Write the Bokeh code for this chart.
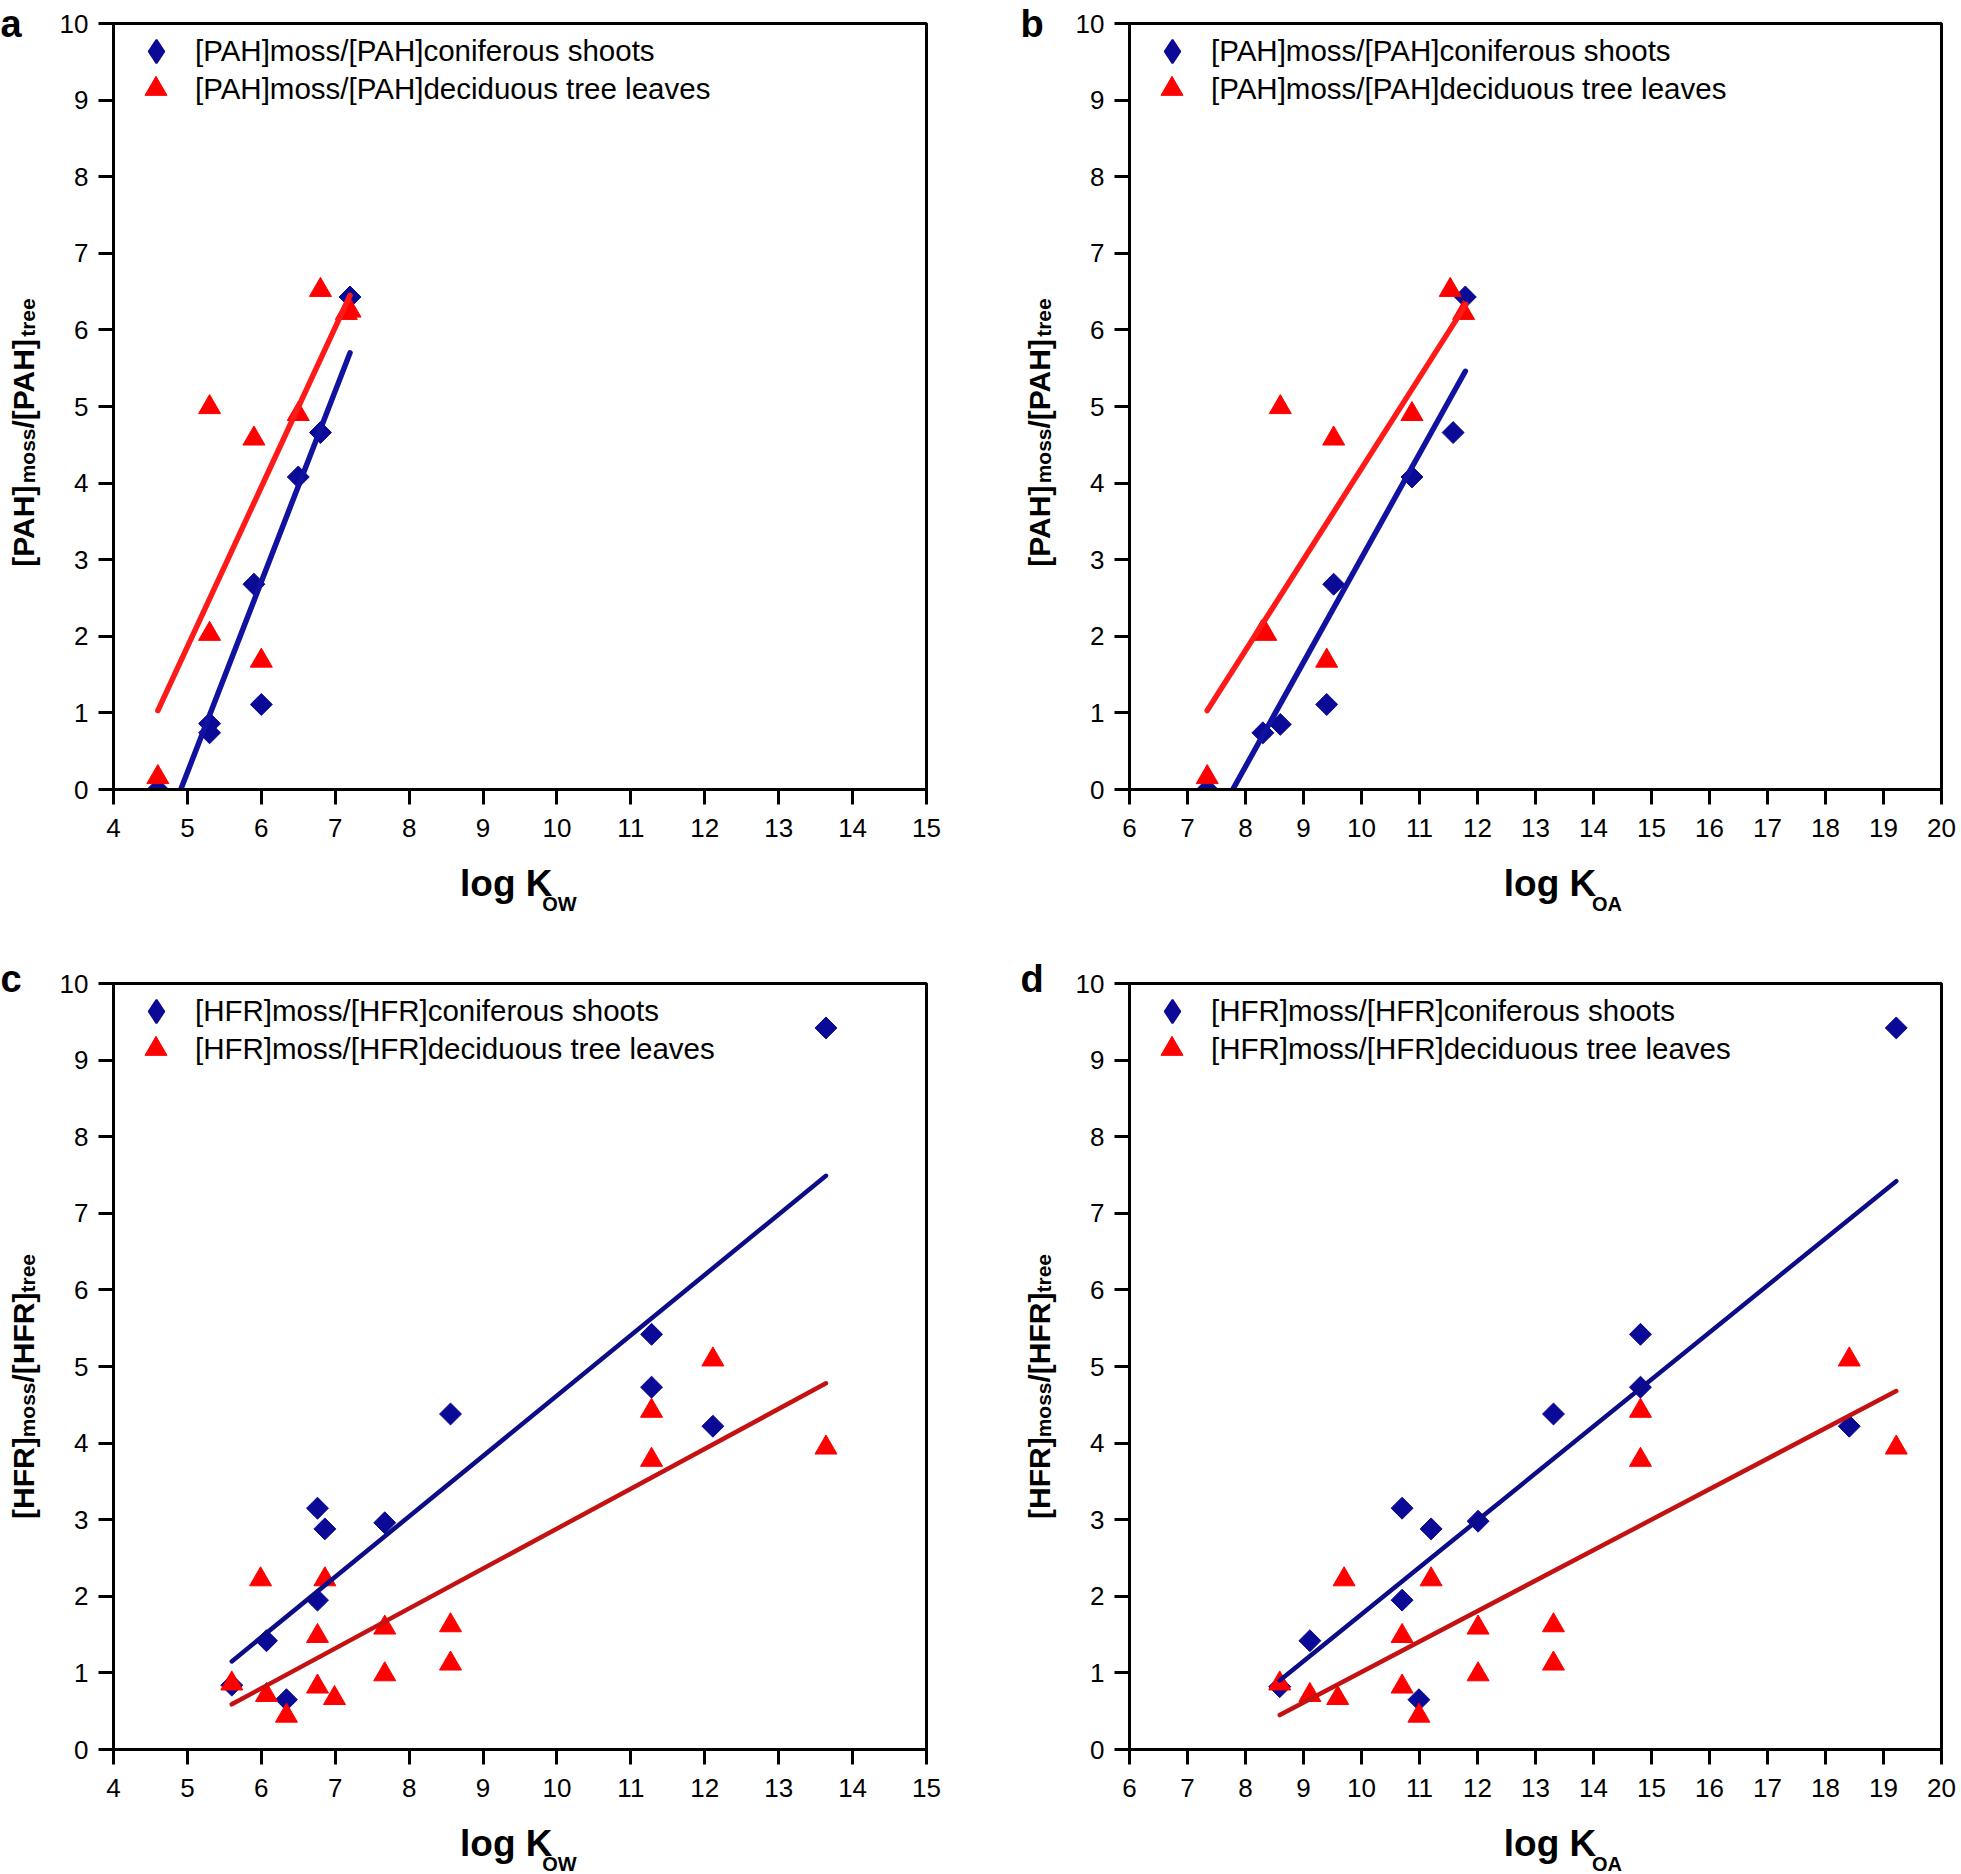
from math import pi
from bokeh.plotting import figure
from bokeh.models import Label, Legend, LegendItem, FixedTicker, Range1d
from bokeh.layouts import row, column
from bokeh.embed import file_html
from bokeh.resources import INLINE

# ---------------- data ----------------
# Panel a: PAH vs log Kow
a_con_x = [4.6, 5.3, 5.3, 5.9, 6.0, 6.5, 6.8, 7.2]
a_con_y = [0.0, 0.86, 0.74, 2.68, 1.11, 4.08, 4.66, 6.43]
a_dec_x = [4.6, 5.3, 5.3, 5.9, 6.0, 6.5, 6.8, 7.15, 7.2]
a_dec_y = [0.16, 4.99, 2.03, 4.58, 1.68, 4.90, 6.52, 6.22, 6.25]
a_fit_con_x = [4.91, 7.2]
a_fit_con_y = [0.0, 5.70]
a_fit_dec_x = [4.6, 7.2]
a_fit_dec_y = [1.03, 6.45]

# Panel b: PAH vs log Koa
b_con_x = [7.34, 8.3, 8.6, 9.4, 9.52, 10.87, 11.58, 11.79]
b_con_y = [0.0, 0.74, 0.85, 1.11, 2.68, 4.08, 4.66, 6.43]
b_dec_x = [7.34, 8.28, 8.35, 8.6, 9.4, 9.52, 10.87, 11.53, 11.76]
b_dec_y = [0.16, 2.05, 2.03, 4.99, 1.68, 4.58, 4.90, 6.52, 6.22]
b_fit_con_x = [7.78, 11.79]
b_fit_con_y = [0.0, 5.46]
b_fit_dec_x = [7.34, 11.8]
b_fit_dec_y = [1.03, 6.33]

# Panel c: HFR vs log Kow
c_con_x = [5.6, 6.07, 6.34, 6.76, 6.86, 6.76, 7.67, 8.56, 11.28, 11.28, 12.11, 13.64]
c_con_y = [0.84, 1.42, 0.65, 3.15, 2.88, 1.95, 2.96, 4.38, 5.42, 4.73, 4.22, 9.42]
c_dec_x = [5.6, 5.99, 6.07, 6.34, 6.76, 6.76, 6.86, 6.99, 7.67, 7.67, 8.56, 8.56,
           11.28, 11.28, 12.11, 13.64]
c_dec_y = [0.86, 2.22, 0.71, 0.44, 1.48, 0.82, 2.22, 0.67, 1.59, 0.98, 1.62, 1.12,
           4.42, 3.78, 5.09, 3.94]
c_fit_con_x = [5.6, 13.64]
c_fit_con_y = [1.15, 7.49]
c_fit_dec_x = [5.6, 13.64]
c_fit_dec_y = [0.59, 4.78]

# Panel d: HFR vs log Koa
d_con_x = [8.59, 9.11, 10.70, 11.20, 10.70, 12.01, 10.99, 13.31, 14.81, 14.81, 18.41, 19.22]
d_con_y = [0.82, 1.42, 3.15, 2.88, 1.95, 2.98, 0.65, 4.38, 5.42, 4.73, 4.22, 9.42]
d_dec_x = [8.59, 9.11, 9.59, 9.70, 10.70, 10.70, 10.99, 11.20, 12.01, 12.01, 13.31, 13.31,
           14.81, 14.81, 18.41, 19.22]
d_dec_y = [0.86, 0.71, 0.67, 2.22, 1.48, 0.82, 0.44, 2.22, 1.59, 0.98, 1.62, 1.12,
           4.42, 3.78, 5.09, 3.94]
d_fit_con_x = [8.59, 19.22]
d_fit_con_y = [0.90, 7.42]
d_fit_dec_x = [8.59, 19.22]
d_fit_dec_y = [0.45, 4.68]

kow_ticks = list(range(4, 16))
koa_ticks = list(range(6, 21))
y_ticks = list(range(0, 11))

# ---------------- style ----------------
FONT = "Liberation Sans"
BLUE = "#0a0a96"
RED = "#ff0000"
FRAME_H = 766
BASE_CORR = 0.25  # bokeh draws 'alphabetic' text this fraction of the size lower

# Arial/Liberation Sans Bold advance widths (per 1000 em)
BOLD_W = {" ": 278, "[": 333, "]": 333, "/": 278, "A": 722, "F": 611, "H": 722,
          "K": 722, "O": 778, "P": 667, "R": 722, "W": 944, "e": 556, "g": 611,
          "l": 278, "m": 889, "o": 611, "r": 389, "s": 556, "t": 333}


def tw(text, size):
    return sum(BOLD_W.get(ch, 556) for ch in text) * size / 1000.0


def helper(width, height):
    f = figure(width=width, height=height, x_range=Range1d(0, width),
               y_range=Range1d(height, 0), output_backend="svg", toolbar_location=None,
               x_axis_location=None, y_axis_location=None, min_border=0,
               min_border_left=0, min_border_right=0, min_border_top=0, min_border_bottom=0)
    f.outline_line_color = None
    f.background_fill_color = "white"
    f.border_fill_color = "white"
    f.xgrid.visible = False
    f.ygrid.visible = False
    return f


def bold_label(x, y, text, size, angle=0.0):
    # x, y: wanted baseline start (pixels in the helper strip, y downwards)
    if angle == 0.0:
        y = y - BASE_CORR * size
    else:
        x = x - BASE_CORR * size
    return Label(x=x, y=y, text=text, angle=angle, text_font=FONT,
                 text_font_size="%spx" % size, text_font_style="bold",
                 text_baseline="alphabetic", text_align="left", text_color="black")


def make_panel(letter, xr, xticks, ylab_w, border_left, frame_w, border_right,
               border_top, border_bottom, xlab_h, xlab_base, letter_x, letter_base,
               ylab_base, ylab_center, con_x, con_y, dec_x, dec_y, fcx, fcy, fdx, fdy,
               species, xsub, fit_width, blue_line, red_line):
    main_w = border_left + frame_w + border_right
    main_h = border_top + FRAME_H + border_bottom
    p = figure(width=main_w, height=main_h, x_range=Range1d(xr[0], xr[1]),
               y_range=Range1d(0, 10), output_backend="svg", toolbar_location=None,
               min_border_left=border_left, min_border_right=border_right,
               min_border_top=border_top, min_border_bottom=border_bottom)
    p.xgrid.visible = False
    p.ygrid.visible = False
    p.outline_line_color = "black"
    p.outline_line_width = 3
    p.outline_line_alpha = 1.0
    p.background_fill_color = "white"
    p.border_fill_color = "white"
    p.xaxis.ticker = FixedTicker(ticks=xticks)
    p.yaxis.ticker = FixedTicker(ticks=y_ticks)
    for ax in (p.xaxis[0], p.yaxis[0]):
        ax.axis_line_width = 3
        ax.axis_line_color = "black"
        ax.major_tick_line_width = 3
        ax.major_tick_line_color = "black"
        ax.major_tick_out = 15
        ax.major_tick_in = 0
        ax.minor_tick_out = 0
        ax.minor_tick_in = 0
        ax.major_label_text_font = FONT
        ax.major_label_text_font_size = "26px"
        ax.major_label_text_color = "black"
    p.xaxis.major_label_standoff = 14
    p.yaxis.major_label_standoff = 10

    p.scatter(con_x, con_y, marker="square", size=15.5, angle=pi / 4,
              fill_color=BLUE, line_color=BLUE, line_width=1)
    r_dec = p.scatter(dec_x, dec_y, marker="triangle", size=22,
                      fill_color=RED, line_color=RED, line_width=1)
    p.line(fdx, fdy, line_width=fit_width, line_color=red_line, line_cap="round")
    p.line(fcx, fcy, line_width=fit_width, line_color=blue_line, line_cap="round")
    # legend key for the diamonds (legend glyphs are drawn unrotated)
    r_key = p.scatter(con_x, con_y, marker="diamond", fill_color=BLUE, line_color=BLUE,
                      line_width=2, visible=False)

    common = dict(margin=0, padding=0, spacing=0, label_height=30,
                  label_text_font=FONT, label_text_font_size="29.5px",
                  label_text_color="black", border_line_alpha=0,
                  background_fill_alpha=0)
    leg1 = Legend(items=[LegendItem(label="[%s]moss/[%s]coniferous shoots" % (species, species),
                                    renderers=[r_key])],
                  location=(14, 709), glyph_width=58, glyph_height=58,
                  label_standoff=10, **common)
    leg2 = Legend(items=[LegendItem(label="[%s]moss/[%s]deciduous tree leaves" % (species, species),
                                    renderers=[r_dec])],
                  location=(15, 673), glyph_width=55, glyph_height=55,
                  label_standoff=12, **common)
    p.add_layout(leg1)
    p.add_layout(leg2)

    # x-axis label below (separate strip)
    xl = helper(main_w, xlab_h)
    main_size, sub_size = 37, 20
    w1 = tw("log K", main_size)
    w2 = tw(xsub, sub_size)
    cx = border_left + frame_w / 2.0
    x0 = cx - (w1 + w2) / 2.0 + 6
    xl.add_layout(bold_label(x0, xlab_base, "log K", main_size))
    xl.add_layout(bold_label(x0 + w1 + 4, xlab_base + 16, xsub, sub_size))

    # y-axis label and panel letter (separate strip on the left)
    yl = helper(ylab_w, main_h + xlab_h)
    yl.add_layout(bold_label(letter_x, letter_base, letter, 38))
    parts = [("[%s]" % species, 30, 0), ("moss", 21, 2),
             ("/[%s]" % species, 30, 0), ("tree", 21, 2)]
    total = sum(tw(t, s) for t, s, _ in parts)
    pos = ylab_center + total / 2.0
    for t, s, drop in parts:
        yl.add_layout(bold_label(ylab_base + drop, pos, t, s, angle=pi / 2))
        pos -= tw(t, s)

    return row(yl, column(p, xl))


# row 1 spans page y 0..930, row 2 spans 930..1873
pa = make_panel("a", (4, 15), kow_ticks, 55, 58, 813, 84, 23, 60, 81, 43,
                0, 33, 30, 432,
                a_con_x, a_con_y, a_dec_x, a_dec_y,
                a_fit_con_x, a_fit_con_y, a_fit_dec_x, a_fit_dec_y, "PAH", "OW",
                5.5, "#1212a0", "#ff1a1a")
pb = make_panel("b", (6, 20), koa_ticks, 60, 59, 812, 18, 23, 60, 81, 43,
                10, 33, 36, 432,
                b_con_x, b_con_y, b_dec_x, b_dec_y,
                b_fit_con_x, b_fit_con_y, b_fit_dec_x, b_fit_dec_y, "PAH", "OA",
                5.5, "#1212a0", "#ff1a1a")
pc = make_panel("c", (4, 15), kow_ticks, 55, 58, 813, 84, 53, 60, 64, 43,
                0, 58, 30, 456,
                c_con_x, c_con_y, c_dec_x, c_dec_y,
                c_fit_con_x, c_fit_con_y, c_fit_dec_x, c_fit_dec_y, "HFR", "OW",
                4.5, "#0c0c86", "#c41212")
pd = make_panel("d", (6, 20), koa_ticks, 60, 59, 812, 18, 53, 60, 64, 43,
                10, 58, 36, 456,
                d_con_x, d_con_y, d_dec_x, d_dec_y,
                d_fit_con_x, d_fit_con_y, d_fit_dec_x, d_fit_dec_y, "HFR", "OA",
                4.5, "#0c0c86", "#c41212")

page = column(row(pa, pb), row(pc, pd))

open("out.html", "w").write(file_html(page, INLINE))
